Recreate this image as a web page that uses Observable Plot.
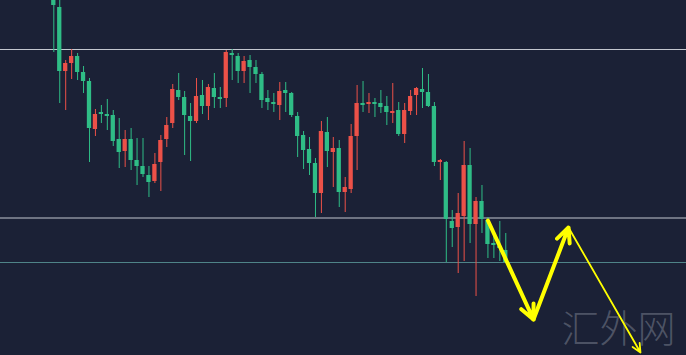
<!DOCTYPE html>
<html>
<head>
<meta charset="utf-8">
<script src="https://cdn.jsdelivr.net/npm/d3@7"></script>
<script src="https://cdn.jsdelivr.net/npm/@observablehq/plot@0.6"></script>
<style>
  html, body { margin: 0; padding: 0; background: #1b2136; }
  #chart svg { display: block; }
</style>
</head>
<body>
<div id="chart"></div>
<script>
// OHLC values (chart units, higher = higher price), one per candle
const opens  = [370,353,289,297,304,288,279,231,248,246,245,221,209,221,200,194,185,179,198,221,237,270,263,244,239,265,254,272,263,262,307,304,289,300,293,286,262,258,255,270,267,244,225,211,197,167,228,208,212,168,171,224,257,256,258,257,254,247,250,226,249,265,271,268,254,198,198,139,133,144,195,136,159,140,117,114,110];
const highs  = [375,365,300,311,307,294,282,251,255,261,250,242,230,232,222,222,194,207,225,243,276,287,269,257,282,280,276,287,273,310,311,307,304,305,300,288,270,267,278,278,268,248,229,223,202,239,243,223,220,183,236,275,279,267,262,270,264,277,258,257,270,273,292,286,258,201,199,150,167,219,212,163,175,143,127,139,127];
const lows   = [308,257,250,281,280,267,198,224,237,230,214,192,193,190,175,183,163,177,169,213,232,260,205,199,237,246,240,252,252,253,280,277,277,267,277,252,250,248,240,248,243,203,191,185,143,147,193,173,153,148,167,190,248,247,243,247,235,237,224,217,245,245,252,253,194,180,98,113,87,99,117,64,127,102,102,99,97];
const closes = [355,289,297,304,288,279,232,246,246,244,219,208,221,200,194,186,178,196,220,235,271,263,245,239,264,254,273,263,261,308,305,289,299,293,286,260,258,256,269,267,245,224,210,197,167,229,209,212,168,173,224,257,255,258,256,253,248,249,226,250,264,272,268,254,198,200,141,132,147,195,136,159,141,116,115,112,98];

// horizontal levels
const levelsLight = [311, 142.5];
const levelsTeal = [98];

// projected path (candle index, price)
const pathX = [73, 80.66, 86.55, 98.65];
const pathY = [140, 41, 133, 8];

const watermark = ["汇外网"];

const UP = "#ec5148";
const DOWN = "#2fbd86";

const candles = opens.map((o, i) => ({
  i, open: o, high: highs[i], low: lows[i], close: closes[i]
}));
const col = d => d.close > d.open ? UP : DOWN;

const segs = pathX.slice(0, -1).map((x, k) => ({
  x1: x, y1: pathY[k], x2: pathX[k + 1], y2: pathY[k + 1], k
}));

const chart = Plot.plot({
  width: 686,
  height: 355,
  margin: 0,
  style: { background: "#1b2136" },
  x: { type: "linear", domain: [-8.963, 106.39], axis: null },
  y: { domain: [5, 360], axis: null },
  marks: [
    Plot.ruleY(levelsLight, { stroke: "#c3c7cf", strokeWidth: 1 }),
    Plot.ruleY(levelsTeal, { stroke: "#4f8488", strokeWidth: 1 }),
    Plot.ruleX(candles, { x: "i", y1: "low", y2: "high", stroke: col, strokeWidth: 1 }),
    Plot.rect(candles, {
      x1: d => d.i - 0.36, x2: d => d.i + 0.36,
      y1: "open", y2: "close", fill: col
    }),
    Plot.text(watermark, {
      text: d => d, frameAnchor: "bottom-right", dx: -11, dy: -14,
      fontSize: 38, fill: "#8d93a0", fillOpacity: 0.45,
      fontFamily: "Noto Sans CJK SC", fontWeight: 300
    }),
    Plot.arrow(segs.filter(s => s.k < 2), {
      x1: "x1", y1: "y1", x2: "x2", y2: "y2",
      stroke: "#ffff00", strokeWidth: 4, headLength: 6, headAngle: 50, bend: 0
    }),
    Plot.arrow(segs.filter(s => s.k === 2), {
      x1: "x1", y1: "y1", x2: "x2", y2: "y2",
      stroke: "#ffff00", strokeWidth: 1.8, headLength: 8, headAngle: 50, bend: 0
    })
  ]
});
document.getElementById("chart").appendChild(chart);
</script>
</body>
</html>
